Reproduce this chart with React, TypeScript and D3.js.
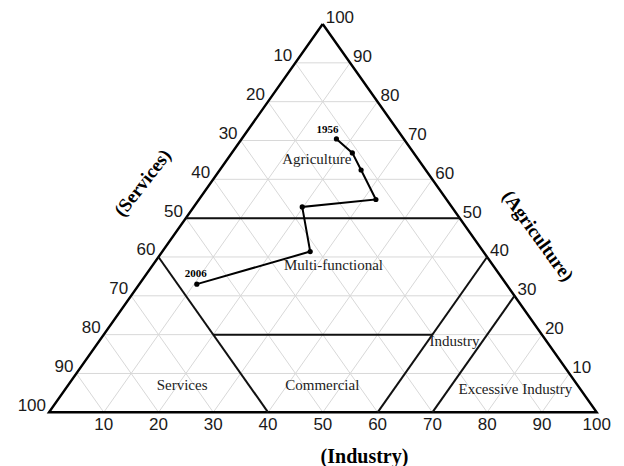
import React from "react";
import * as d3 from "d3";

// Ternary data: Agriculture (A), Industry (I), Services (S = 100 - A - I)
const pointYears = ["1956", "", "", "", "", "", "2006"];
const agriculture = [70.4, 66.8, 62.4, 54.8, 52.9, 41.4, 33.0];
const industry = [17.3, 22.0, 25.8, 32.3, 19.8, 27.0, 10.5];

const ticks = [10, 20, 30, 40, 50, 60, 70, 80, 90, 100];
const gridLevels = [10, 20, 30, 40, 50, 60, 70, 80, 90];

// Region boundaries in ternary units (a = agriculture, i = industry)
const regionLines = [
  [{ a: 50, i: 0 }, { a: 50, i: 50 }],
  [{ a: 40, i: 0 }, { a: 0, i: 40 }],
  [{ a: 20, i: 20 }, { a: 20, i: 60 }],
  [{ a: 40, i: 60 }, { a: 0, i: 60 }],
  [{ a: 30, i: 70 }, { a: 0, i: 70 }],
];

const regionNames = ["Agriculture", "Multi-functional", "Industry", "Excessive Industry", "Services", "Commercial"];
const regionA = [64.8, 37.5, 17.9, 5.5, 6.6, 6.6];
const regionI = [16.5, 33.2, 65.1, 82.4, 21.0, 46.6];

const W = 624;
const H = 466;
const BL = [49, 412.3];
const BR = [596.7, 412.3];
const TOP = [322.7, 24];

const iScale = d3.scaleLinear().domain([0, 100]).range([0, BR[0] - BL[0]]);
const aScaleX = d3.scaleLinear().domain([0, 100]).range([0, TOP[0] - BL[0]]);
const aScaleY = d3.scaleLinear().domain([0, 100]).range([BL[1], TOP[1]]);

function project(a: number, i: number): [number, number] {
  return [BL[0] + iScale(i) + aScaleX(a), aScaleY(a)];
}

const lineGen = d3.line<[number, number]>().x((d) => d[0]).y((d) => d[1]);

export default function App() {
  const sans = "'Liberation Sans', Arial, sans-serif";
  const serif = "'Liberation Serif', 'Times New Roman', serif";

  const grid: [number, number][][] = [];
  gridLevels.forEach((k) => {
    grid.push([project(k, 0), project(k, 100 - k)]);
    grid.push([project(0, k), project(100 - k, k)]);
    grid.push([project(100 - k, 0), project(0, 100 - k)]);
  });

  const pts = agriculture.map((a, idx) => project(a, industry[idx]));
  const tri = [project(100, 0), project(0, 100), project(0, 0), project(100, 0)];

  return (
    <div style={{ position: "absolute", left: 0, top: 0 }}>
      <svg width={W} height={H} style={{ display: "block", background: "#fff" }}>
        <g>
          {grid.map((g, k) => (
            <path key={k} d={lineGen(g) || ""} stroke="#d8d8d8" strokeWidth={1} fill="none" />
          ))}
        </g>
        <path d={lineGen(tri) || ""} stroke="#000" strokeWidth={2.4} fill="none" strokeLinejoin="miter" />
        {regionLines.map((l, k) => (
          <path
            key={k}
            d={lineGen(l.map((p) => project(p.a, p.i))) || ""}
            stroke="#111"
            strokeWidth={2}
            fill="none"
          />
        ))}
        {ticks.map((k) => {
          const [x, y] = project(100 - k, 0);
          return (
            <text key={"l" + k} x={x - 3} y={y - 6} textAnchor="end" dominantBaseline="middle" fontFamily={sans} fontSize={17} fill="#1a1a1a">
              {k}
            </text>
          );
        })}
        {ticks.map((k) => {
          const [x, y] = project(k, 100 - k);
          return (
            <text key={"r" + k} x={x + 3} y={y - 5} textAnchor="start" dominantBaseline="middle" fontFamily={sans} fontSize={17} fill="#1a1a1a">
              {k}
            </text>
          );
        })}
        {ticks.map((k) => {
          const [x, y] = project(0, k);
          return (
            <text key={"b" + k} x={x} y={y + 13} textAnchor="middle" dominantBaseline="middle" fontFamily={sans} fontSize={17} fill="#1a1a1a">
              {k}
            </text>
          );
        })}
        {regionNames.map((n, k) => {
          const [x, y] = project(regionA[k], regionI[k]);
          return (
            <text key={n} x={x} y={y} textAnchor="middle" dominantBaseline="middle" fontFamily={serif} fontSize={15} fill="#222">
              {n}
            </text>
          );
        })}
        <path d={lineGen(pts) || ""} stroke="#000" strokeWidth={2} fill="none" />
        {pts.map((p, k) => (
          <circle key={k} cx={p[0]} cy={p[1]} r={2.6} fill="#000" />
        ))}
        {pts.map((p, k) =>
          pointYears[k] ? (
            <text
              key={"y" + k}
              x={p[0] + (k === 0 ? -9 : -1)}
              y={p[1] - (k === 0 ? 8.5 : 10)}
              textAnchor="middle"
              dominantBaseline="middle"
              fontFamily={serif}
              fontWeight="bold"
              fontSize={11}
              fill="#000"
            >
              {pointYears[k]}
            </text>
          ) : null
        )}
        <text x={144} y={184} transform="rotate(-52 144 184)" textAnchor="middle" dominantBaseline="middle" fontFamily={serif} fontWeight="bold" fontSize={19} fill="#000">
          (Services)
        </text>
        <text x={536.5} y={237} transform="rotate(54 536.5 237)" textAnchor="middle" dominantBaseline="middle" fontFamily={serif} fontWeight="bold" fontSize={19} fill="#000">
          (Agriculture)
        </text>
        <text x={364.5} y={458} textAnchor="middle" dominantBaseline="middle" fontFamily={serif} fontWeight="bold" fontSize={20} fill="#000">
          (Industry)
        </text>
      </svg>
    </div>
  );
}
